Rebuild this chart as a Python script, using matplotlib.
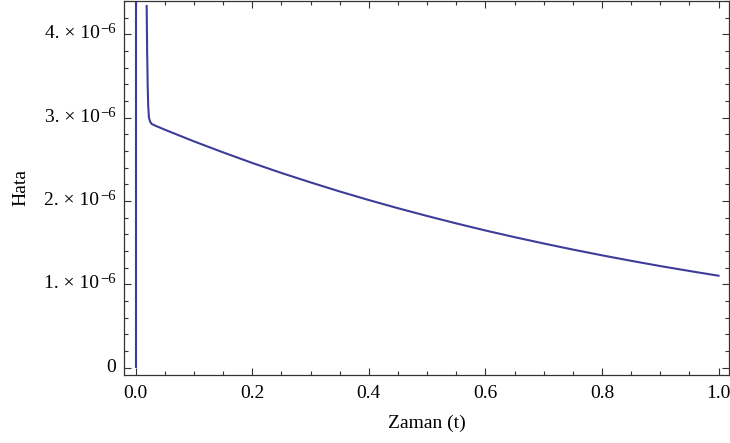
import matplotlib
matplotlib.use("Agg")
import matplotlib.pyplot as plt
from matplotlib.ticker import MultipleLocator, FixedLocator, NullFormatter, FixedFormatter

plt.rcParams['font.family'] = ['Liberation Serif', 'DejaVu Serif']

# Data (values in units of 1e-6)
t_spike = [0.0, 0.0]
err_spike = [0.0, 4.8]

t_main = [0.0189, 0.0197, 0.0206, 0.0215, 0.0228, 0.0250, 0.0275, 0.035, 0.040,
          0.05, 0.10, 0.15, 0.20, 0.25, 0.30, 0.35, 0.40, 0.45, 0.50,
          0.55, 0.60, 0.65, 0.70, 0.75, 0.80, 0.85, 0.90, 0.95, 1.00]
err_main = [4.34, 3.80, 3.40, 3.15, 3.00, 2.95, 2.925, 2.900, 2.886,
            2.856, 2.716, 2.584, 2.457, 2.337, 2.224, 2.115, 2.012, 1.914, 1.821,
            1.732, 1.647, 1.567, 1.491, 1.418, 1.349, 1.283, 1.220, 1.161, 1.104]

x_ticks = [0.0, 0.2, 0.4, 0.6, 0.8, 1.0]
x_tick_labels = ["0.0", "0.2", "0.4", "0.6", "0.8", "1.0"]
y_ticks = [0.0, 1.0, 2.0, 3.0, 4.0]
y_tick_mantissa = ["0", "1.", "2.", "3.", "4."]

scale = 1e-6
color = "#3d3d99"
fs = 14

fig = plt.figure(figsize=(7.30, 4.43), dpi=100)
ax = fig.add_axes([124/730, 1 - 375/443, (729-124)/730, (375-1)/443])

ax.plot(t_spike, [v*scale for v in err_spike], color=color, lw=1.5, solid_capstyle='butt')
ax.plot(t_main, [v*scale for v in err_main], color=color, lw=1.5)

ax.set_xlim(-0.02, 1.018)
ax.set_ylim(-0.087e-6, 4.40e-6)

ax.xaxis.set_major_locator(FixedLocator(x_ticks))
ax.xaxis.set_major_formatter(FixedFormatter(x_tick_labels))
ax.xaxis.set_minor_locator(MultipleLocator(0.05))
ax.yaxis.set_major_locator(FixedLocator([v*scale for v in y_ticks]))
ax.yaxis.set_major_formatter(NullFormatter())
ax.yaxis.set_minor_locator(MultipleLocator(0.2e-6))

ax.tick_params(which='both', direction='in', top=True, right=True, width=0.8, color='#333333')
ax.tick_params(which='major', length=5)
ax.tick_params(which='minor', length=3)
ax.tick_params(axis='x', labelsize=fs, pad=7)
for sp in ax.spines.values():
    sp.set_linewidth(0.9)
    sp.set_color('#333333')

ytr = ax.get_yaxis_transform()
for v, m in zip(y_ticks, y_tick_mantissa):
    if v == 0:
        ax.annotate(m, xy=(0, v*scale), xycoords=ytr, xytext=(-8, 0),
                    textcoords='offset pixels', ha='right', va='center', fontsize=fs)
    else:
        sup = ax.annotate("\u22126", xy=(0, v*scale), xycoords=ytr, xytext=(-8, -2),
                          textcoords='offset pixels', ha='right', va='bottom', fontsize=fs*0.75)
        ax.annotate(m + " \u00d7 10", xy=(0, 0), xycoords=sup, xytext=(-1, -6),
                    textcoords='offset pixels', ha='right', va='bottom', fontsize=fs)

ax.set_xlabel("Zaman (t)", fontsize=fs, labelpad=9)
ax.set_ylabel("Hata", fontsize=fs)
ax.yaxis.set_label_coords(-0.157, 0.5)

fig.savefig("out.png", dpi=100)
